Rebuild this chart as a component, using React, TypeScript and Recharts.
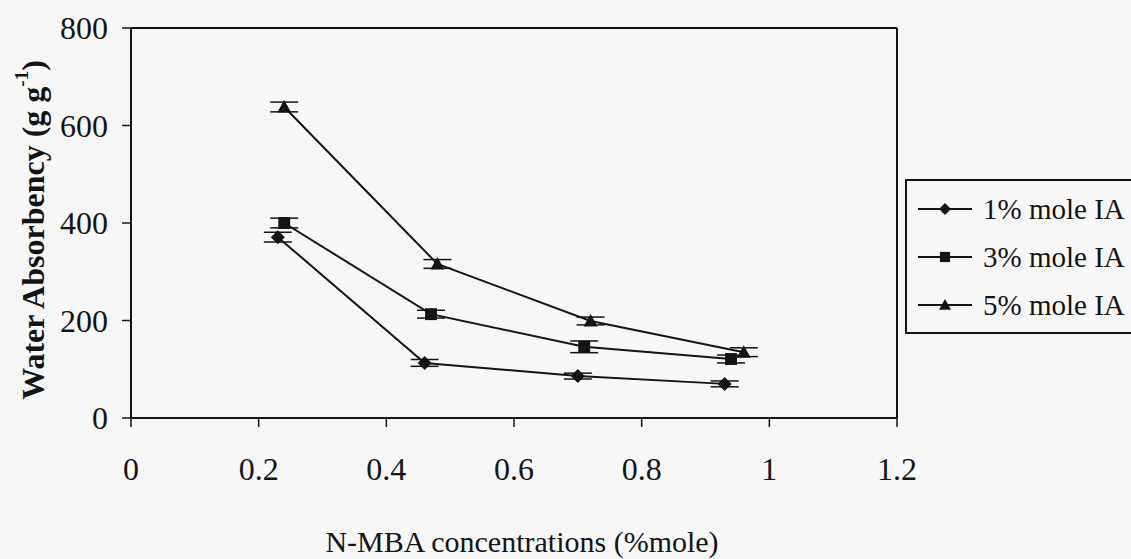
import React from 'react';
import { LineChart, Line, XAxis, YAxis, ErrorBar, ReferenceLine } from 'recharts';

// N-MBA concentration (%mole) and water absorbency (g/g) per itaconic acid level
const mole1X = [0.23, 0.46, 0.70, 0.93];
const mole1Y = [371, 113, 86, 70];
const mole1Err = [10, 7, 6, 6];

const mole3X = [0.24, 0.47, 0.71, 0.94];
const mole3Y = [400, 213, 146, 121];
const mole3Err = [10, 8, 12, 8];

const mole5X = [0.24, 0.48, 0.72, 0.96];
const mole5Y = [638, 316, 199, 135];
const mole5Err = [10, 9, 8, 9];

const seriesNames = ['1% mole IA', '3% mole IA', '5% mole IA'];
const xTicks = [0, 0.2, 0.4, 0.6, 0.8, 1, 1.2];
const yTicks = [0, 200, 400, 600, 800];

const FONT = '"Liberation Serif", "Times New Roman", serif';
const INK = '#141414';
const PAPER = '#f7f7f7';

const toPoints = (xs: number[], ys: number[], errs: number[]) =>
  xs.map((x, i) => ({ x, y: ys[i], err: errs[i] }));

const mole1 = toPoints(mole1X, mole1Y, mole1Err);
const mole3 = toPoints(mole3X, mole3Y, mole3Err);
const mole5 = toPoints(mole5X, mole5Y, mole5Err);

type Shape = 'diamond' | 'square' | 'triangle';

const markerPath = (shape: Shape, cx: number, cy: number, s: number) => {
  if (shape === 'diamond') return `M${cx},${cy - s}L${cx + s},${cy}L${cx},${cy + s}L${cx - s},${cy}Z`;
  if (shape === 'square') return `M${cx - s * 0.85},${cy - s * 0.85}h${s * 1.7}v${s * 1.7}h${-s * 1.7}Z`;
  return `M${cx},${cy - s}L${cx + s},${cy + s * 0.8}L${cx - s},${cy + s * 0.8}Z`;
};

const makeDot = (shape: Shape) => (props: any) => {
  const { cx, cy, index } = props;
  if (cx == null || cy == null) return <g key={`${shape}-${index}`} />;
  return <path key={`${shape}-${index}`} d={markerPath(shape, cx, cy, 7)} fill={INK} />;
};

const shapes: Shape[] = ['diamond', 'square', 'triangle'];

// boxed legend on the right, running past the page edge like the original figure
const LegendBox = () => (
  <div
    style={{
      position: 'absolute',
      left: 905,
      top: 179,
      width: 240,
      height: 147,
      border: `2px solid ${INK}`,
      background: PAPER,
      fontFamily: FONT,
      fontSize: 29,
      color: INK,
      paddingTop: 4,
    }}
  >
    {seriesNames.map((name, i) => (
      <div key={name} style={{ display: 'flex', alignItems: 'center', height: 48 }}>
        <svg width={65} height={20} style={{ flex: 'none', marginLeft: 11 }}>
          <line x1={0} y1={10} x2={54} y2={10} stroke={INK} strokeWidth={2} />
          <path d={markerPath(shapes[i], 27, 10, 6)} fill={INK} />
        </svg>
        <span style={{ whiteSpace: 'nowrap', lineHeight: 1 }}>{name}</span>
      </div>
    ))}
  </div>
);

const YTitle = () => (
  <text
    x={33}
    y={230}
    transform="rotate(-90 33 230)"
    textAnchor="middle"
    dominantBaseline="central"
    fontFamily={FONT}
    fontSize={32}
    fontWeight="bold"
    fill={INK}
  >
    Water Absorbency (g g
    <tspan dy={-12} fontSize={19}>-1</tspan>
    <tspan dy={12}>)</tspan>
  </text>
);

export default function App() {
  const tickStyle = { fill: INK, fontSize: 32, fontFamily: FONT };
  return (
    <div style={{ position: 'relative', width: 1131, height: 559, background: PAPER, overflow: 'hidden' }}>
      <style>{`body{margin:0;background:${PAPER}}`}</style>
      <LineChart width={1131} height={559} margin={{ top: 28, right: 234, left: 0, bottom: 0 }}>
        <XAxis
          type="number"
          dataKey="x"
          domain={[0, 1.2]}
          ticks={xTicks}
          height={141}
          axisLine={{ stroke: INK, strokeWidth: 2 }}
          tickLine={{ stroke: INK, strokeWidth: 1.5 }}
          tickSize={9}
          tickMargin={30}
          tick={tickStyle}
          label={{
            value: 'N-MBA concentrations (%mole)',
            position: 'insideBottom',
            offset: 7,
            dx: 8,
            fill: INK,
            fontSize: 30,
            fontFamily: FONT,
          }}
        />
        <YAxis
          type="number"
          domain={[0, 800]}
          ticks={yTicks}
          width={131}
          axisLine={{ stroke: INK, strokeWidth: 2 }}
          tickLine={{ stroke: INK, strokeWidth: 1.5 }}
          tickSize={9}
          tickMargin={14}
          tick={tickStyle}
          label={{ content: () => <YTitle /> }}
        />
        <ReferenceLine y={800} stroke={INK} strokeWidth={2} />
        <ReferenceLine x={1.2} stroke={INK} strokeWidth={2} />
        <Line data={mole1} dataKey="y" name={seriesNames[0]} stroke={INK} strokeWidth={2}
          dot={makeDot('diamond')} activeDot={false} isAnimationActive={false}>
          <ErrorBar dataKey="err" direction="y" width={14} stroke={INK} strokeWidth={1.5} />
        </Line>
        <Line data={mole3} dataKey="y" name={seriesNames[1]} stroke={INK} strokeWidth={2}
          dot={makeDot('square')} activeDot={false} isAnimationActive={false}>
          <ErrorBar dataKey="err" direction="y" width={14} stroke={INK} strokeWidth={1.5} />
        </Line>
        <Line data={mole5} dataKey="y" name={seriesNames[2]} stroke={INK} strokeWidth={2}
          dot={makeDot('triangle')} activeDot={false} isAnimationActive={false}>
          <ErrorBar dataKey="err" direction="y" width={14} stroke={INK} strokeWidth={1.5} />
        </Line>
      </LineChart>
      <LegendBox />
    </div>
  );
}
